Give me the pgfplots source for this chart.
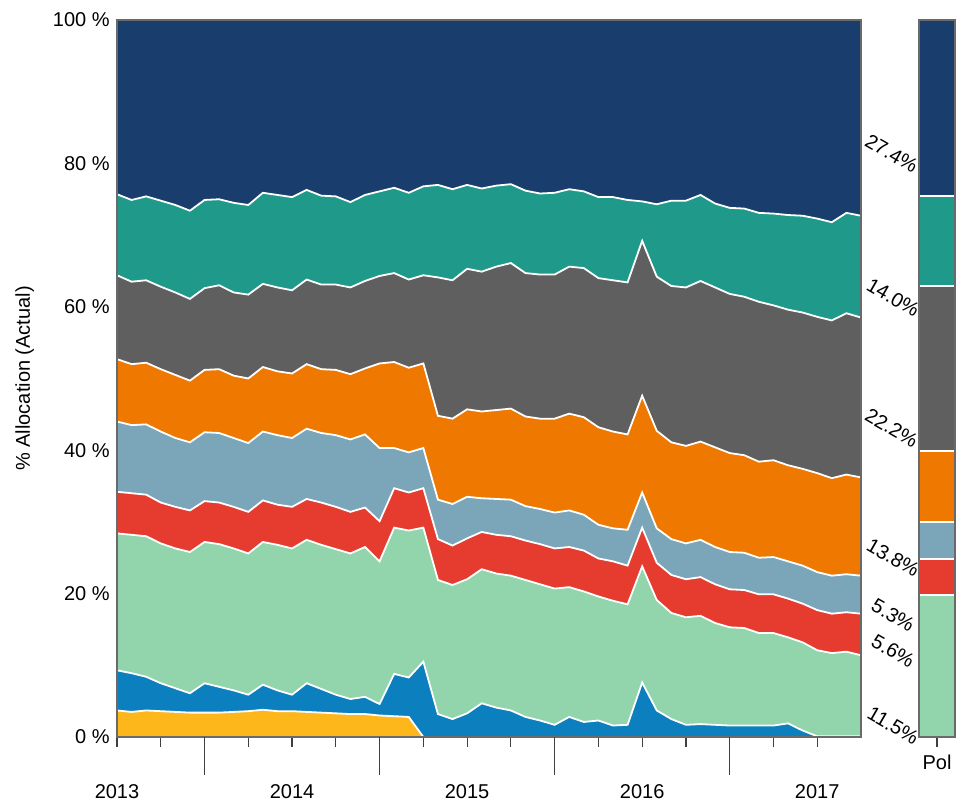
\documentclass[border=0pt]{standalone}
\usepackage{pgfplots}
\pgfplotsset{compat=1.18}
\usepackage{pgfplotstable}
\usepackage{fontspec}
\setmainfont{Liberation Sans}

\definecolor{cnavy}{HTML}{193D6D}
\definecolor{cteal}{HTML}{1F9A8A}
\definecolor{cgray}{HTML}{5F5F5F}
\definecolor{corange}{HTML}{EE7800}
\definecolor{clblue}{HTML}{7BA5B9}
\definecolor{cred}{HTML}{E63C30}
\definecolor{cgreen}{HTML}{92D4AB}
\definecolor{cblue}{HTML}{0C7FBF}
\definecolor{cyellow}{HTML}{FDB71A}
\definecolor{cframe}{HTML}{6A6A6A}

% cumulative top of each layer (%), month index 0 = Jan 2013
\pgfplotstableread{
m  Y   B    G    R    L    O    Gr   T
0  3.7 9.3  28.4 34.2 44.0 52.7 64.4 75.7
1  3.5 8.9  28.2 34.0 43.5 52.0 63.5 74.9
2  3.7 8.4  28.0 33.8 43.6 52.2 63.7 75.4
3  3.6 7.5  27.0 32.7 42.6 51.3 62.8 74.8
4  3.5 6.8  26.3 32.1 41.7 50.5 62.0 74.2
5  3.4 6.1  25.8 31.6 41.1 49.7 61.1 73.4
6  3.4 7.5  27.2 32.9 42.5 51.2 62.6 74.9
7  3.4 7.0  26.9 32.7 42.4 51.3 63.0 75.0
8  3.5 6.5  26.3 32.1 41.7 50.4 62.0 74.5
9  3.6 5.9  25.6 31.4 41.0 50.0 61.7 74.2
10 3.8 7.3  27.2 33.0 42.6 51.6 63.2 75.9
11 3.6 6.5  26.8 32.4 42.1 51.0 62.7 75.6
12 3.6 5.9  26.3 32.1 41.7 50.7 62.3 75.3
13 3.5 7.5  27.5 33.2 43.0 52.0 63.8 76.3
14 3.4 6.7  26.8 32.7 42.4 51.3 63.1 75.5
15 3.3 5.9  26.2 32.1 42.1 51.2 63.1 75.4
16 3.2 5.3  25.6 31.4 41.5 50.6 62.7 74.6
17 3.2 5.6  26.5 32.0 42.2 51.4 63.6 75.6
18 3.0 4.6  24.5 30.1 40.3 52.1 64.3 76.1
19 2.9 8.8  29.2 34.7 40.3 52.3 64.7 76.6
20 2.8 8.3  28.8 34.1 39.7 51.5 63.8 75.9
21 0   10.5 29.2 34.7 40.3 52.1 64.4 76.8
22 0   3.2  21.9 27.6 33.1 44.8 64.1 77.0
23 0   2.5  21.2 26.7 32.5 44.4 63.7 76.4
24 0   3.3  22.0 27.7 33.5 45.7 65.3 77.0
25 0   4.7  23.4 28.6 33.3 45.4 64.9 76.5
26 0   4.1  22.8 28.2 33.2 45.6 65.6 76.9
27 0   3.7  22.5 28.0 33.1 45.8 66.1 77.1
28 0   2.8  21.9 27.4 32.2 44.7 64.7 76.2
29 0   2.3  21.3 26.9 31.8 44.4 64.5 75.8
30 0   1.7  20.7 26.3 31.3 44.4 64.5 75.9
31 0   2.8  20.9 26.5 31.6 45.1 65.6 76.4
32 0   2.1  20.3 26.0 31.0 44.6 65.4 76.1
33 0   2.3  19.6 24.9 29.6 43.2 64.0 75.3
34 0   1.6  19.0 24.5 29.1 42.6 63.7 75.3
35 0   1.7  18.5 23.9 28.9 42.2 63.4 74.9
36 0   7.6  23.8 29.2 34.1 47.6 69.2 74.7
37 0   3.7  19.1 24.3 29.1 42.7 64.2 74.3
38 0   2.5  17.3 22.6 27.6 41.1 62.9 74.8
39 0   1.7  16.7 22.0 27.0 40.6 62.7 74.8
40 0   1.8  16.9 22.3 27.5 41.2 63.6 75.6
41 0   1.7  15.9 21.3 26.5 40.4 62.7 74.4
42 0   1.6  15.3 20.6 25.8 39.6 61.8 73.8
43 0   1.6  15.2 20.5 25.7 39.3 61.4 73.7
44 0   1.6  14.5 19.9 25.0 38.4 60.7 73.1
45 0   1.6  14.5 19.9 25.1 38.6 60.2 73.0
46 0   1.9  13.9 19.3 24.5 37.9 59.6 72.8
47 0   0.9  13.2 18.6 23.9 37.4 59.2 72.7
48 0   0.1  12.1 17.7 23.0 36.8 58.6 72.3
49 0   0.1  11.7 17.2 22.5 36.1 58.1 71.8
50 0   0.1  11.9 17.4 22.7 36.6 59.1 73.1
51 0   0.1  11.4 17.2 22.5 36.2 58.5 72.7
}\alloc

\begin{document}
\begin{tikzpicture}
\path[use as bounding box] (-58.5pt,-33.5pt) rectangle (420.5pt,368.5pt);
\pgfplotsset{
  every axis/.append style={
    scale only axis,
    axis on top,
    axis line style={cframe, line width=0.6pt},
    tick style={black!75, line width=0.6pt},
    tick align=outside,
    tick pos=left,
    tick label style={font=\fontsize{10}{12}\selectfont},
  },
}
\begin{axis}[
  width=372pt, height=358.5pt,
  xmin=0, xmax=51, ymin=0, ymax=100,
  clip=false,
  ytick={0,20,40,60,80,100},
  yticklabels={0 \%,20 \%,40 \%,60 \%,80 \%,100 \%},
  ytick style={draw=none},
  yticklabel style={anchor=east, inner sep=0pt, xshift=1.5pt},
  xtick={0,12,24,36,48},
  xticklabels={2013,2014,2015,2016,2017},
  minor xtick={3,9,15,21,27,33,39,45},
  major tick length=5pt, minor tick length=5pt,
  extra x ticks={6,18,30,42},
  extra x tick labels={},
  extra x tick style={major tick length=19pt},
  xticklabel style={anchor=north, inner sep=0pt, yshift=-18.5pt},
  ylabel={\% Allocation (Actual)},
  every axis y label/.style={at={(axis description cs:-0.124,0.5)}, rotate=90, anchor=center, font=\fontsize{10}{12}\selectfont},
]
\addplot[fill=cnavy, draw=none] coordinates {(0,100) (51,100)} \closedcycle;
\addplot[fill=cteal, draw=none] table[x=m, y=T] {\alloc} \closedcycle;
\addplot[fill=cgray, draw=none] table[x=m, y=Gr] {\alloc} \closedcycle;
\addplot[fill=corange, draw=none] table[x=m, y=O] {\alloc} \closedcycle;
\addplot[fill=clblue, draw=none] table[x=m, y=L] {\alloc} \closedcycle;
\addplot[fill=cred, draw=none] table[x=m, y=R] {\alloc} \closedcycle;
\addplot[fill=cgreen, draw=none] table[x=m, y=G] {\alloc} \closedcycle;
\addplot[fill=cblue, draw=none] table[x=m, y=B] {\alloc} \closedcycle;
\addplot[fill=cyellow, draw=none] table[x=m, y=Y] {\alloc} \closedcycle;

\addplot[white, line width=0.9pt] table[x=m, y=T] {\alloc};
\addplot[white, line width=0.9pt] table[x=m, y=Gr] {\alloc};
\addplot[white, line width=0.9pt] table[x=m, y=O] {\alloc};
\addplot[white, line width=0.9pt] table[x=m, y=L] {\alloc};
\addplot[white, line width=0.9pt] table[x=m, y=R] {\alloc};
\addplot[white, line width=0.9pt] table[x=m, y=G] {\alloc};
\addplot[white, line width=0.9pt] table[x=m, y=B] {\alloc};
\addplot[white, line width=0.9pt, restrict x to domain=0:21] table[x=m, y=Y] {\alloc};

% last-month shares, written beside the right edge
\begin{scope}[every node/.style={rotate=-30, font=\fontsize{10}{12}\selectfont}]
\node at (axis cs:53.1,81.4) {27.4\%};
\node at (axis cs:53.2,61.3) {14.0\%};
\node at (axis cs:53.1,43.1) {22.2\%};
\node at (axis cs:53.2,25.0) {13.8\%};
\node at (axis cs:53.2,17.0) {5.3\%};
\node at (axis cs:53.2,12.0) {5.6\%};
\node at (axis cs:53.2,1.6) {11.5\%};
\end{scope}
\end{axis}

\begin{axis}[
  at={(401pt,0pt)}, anchor=south west,
  width=18pt, height=358.5pt,
  xmin=-0.5, xmax=0.5, ymin=0, ymax=100,
  ybar stacked, bar width=18pt,
  ytick=\empty,
  xtick={0}, xticklabels={Pol},
  major tick length=5pt,
  xticklabel style={anchor=north, inner sep=0pt, yshift=-4pt},
]
\addplot[fill=cgreen, draw=white, line width=0.9pt] coordinates {(0,19.8)};
\addplot[fill=cred, draw=white, line width=0.9pt] coordinates {(0,5.0)};
\addplot[fill=clblue, draw=white, line width=0.9pt] coordinates {(0,5.2)};
\addplot[fill=corange, draw=white, line width=0.9pt] coordinates {(0,9.9)};
\addplot[fill=cgray, draw=white, line width=0.9pt] coordinates {(0,23.0)};
\addplot[fill=cteal, draw=white, line width=0.9pt] coordinates {(0,12.5)};
\addplot[fill=cnavy, draw=white, line width=0.9pt] coordinates {(0,24.6)};
\end{axis}
\end{tikzpicture}
\end{document}
